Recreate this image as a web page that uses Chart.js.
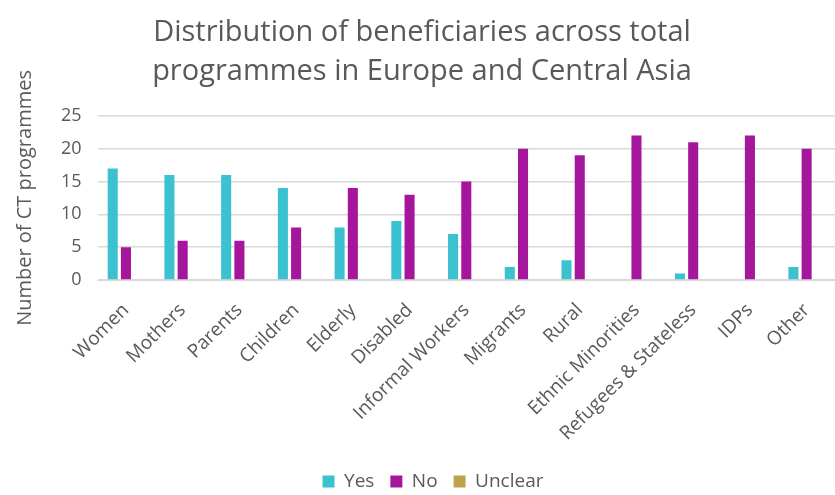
<!DOCTYPE html>
<html>
<head>
<meta charset="utf-8">
<script src="https://cdn.jsdelivr.net/npm/chart.js@4"></script>
<style>
  html, body { margin: 0; padding: 0; background: #fff; }
  #wrap { width: 835px; height: 495px; }
</style>
</head>
<body>
<div id="wrap"><canvas id="chart-bar"></canvas></div>
<script>
const categories = ["Women", "Mothers", "Parents", "Children", "Elderly", "Disabled",
  "Informal Workers", "Migrants", "Rural", "Ethnic Minorities", "Refugees & Stateless", "IDPs", "Other"];
const yesValues = [17, 16, 16, 14, 8, 9, 7, 2, 3, 0, 1, 0, 2];
const noValues = [5, 6, 6, 8, 14, 13, 15, 20, 19, 22, 21, 22, 20];
const unclearValues = [0, 0, 0, 0, 0, 0, 0, 0, 0, 0, 0, 0, 0];
const yTicks = [0, 5, 10, 15, 20, 25];

const grey = "#595959";
const font = "'Open Sans', 'Noto Sans', sans-serif";

const chartBox = document.getElementById("chart-bar");

// nudge the legend a little right of the canvas centre
const legendShift = {
  id: "legendShift",
  afterLayout(chart) {
    chart.legend.left += 11;
    chart.legend.right += 11;
  },
};

new Chart(chartBox, {
  type: "bar",
  data: {
    labels: categories,
    datasets: [
      { label: "Yes", data: yesValues, backgroundColor: "#3CC1D0" },
      { label: "No", data: noValues, backgroundColor: "#A6169C" },
      { label: "Unclear", data: unclearValues, backgroundColor: "#BFA24E" },
    ],
  },
  plugins: [legendShift],
  options: {
    responsive: true,
    maintainAspectRatio: false,
    animation: false,
    categoryPercentage: 0.7,
    barPercentage: 0.76,
    layout: { padding: { left: 9, right: 0, top: 0, bottom: -6 } },
    plugins: {
      title: {
        display: true,
        text: ["Distribution of beneficiaries across total", "programmes in Europe and Central Asia"],
        color: grey,
        font: { family: font, size: 29, weight: "normal", lineHeight: 1.36 },
        padding: { top: 13, bottom: 24 },
      },
      legend: {
        position: "bottom",
        labels: {
          color: grey,
          font: { family: font, size: 19 },
          boxWidth: 12,
          boxHeight: 12,
          padding: 16,
        },
      },
      tooltip: { enabled: false },
    },
    scales: {
      x: {
        grid: { display: false },
        border: { color: "#d9d9d9" },
        ticks: {
          color: grey,
          font: { family: font, size: 19 },
          minRotation: 45,
          maxRotation: 45,
          autoSkip: false,
          padding: 11,
        },
      },
      y: {
        min: 0,
        max: 25,
        afterBuildTicks: (axis) => { axis.ticks = yTicks.map((v) => ({ value: v })); },
        grid: { color: "#d9d9d9", lineWidth: 1.5, drawTicks: false },
        border: { display: false },
        ticks: {
          color: grey,
          font: { family: font, size: 18 },
          padding: 16,
        },
        title: {
          display: true,
          text: "Number of CT programmes",
          color: grey,
          font: { family: font, size: 20 },
          padding: { bottom: 8 },
        },
      },
    },
  },
});
</script>
</body>
</html>
